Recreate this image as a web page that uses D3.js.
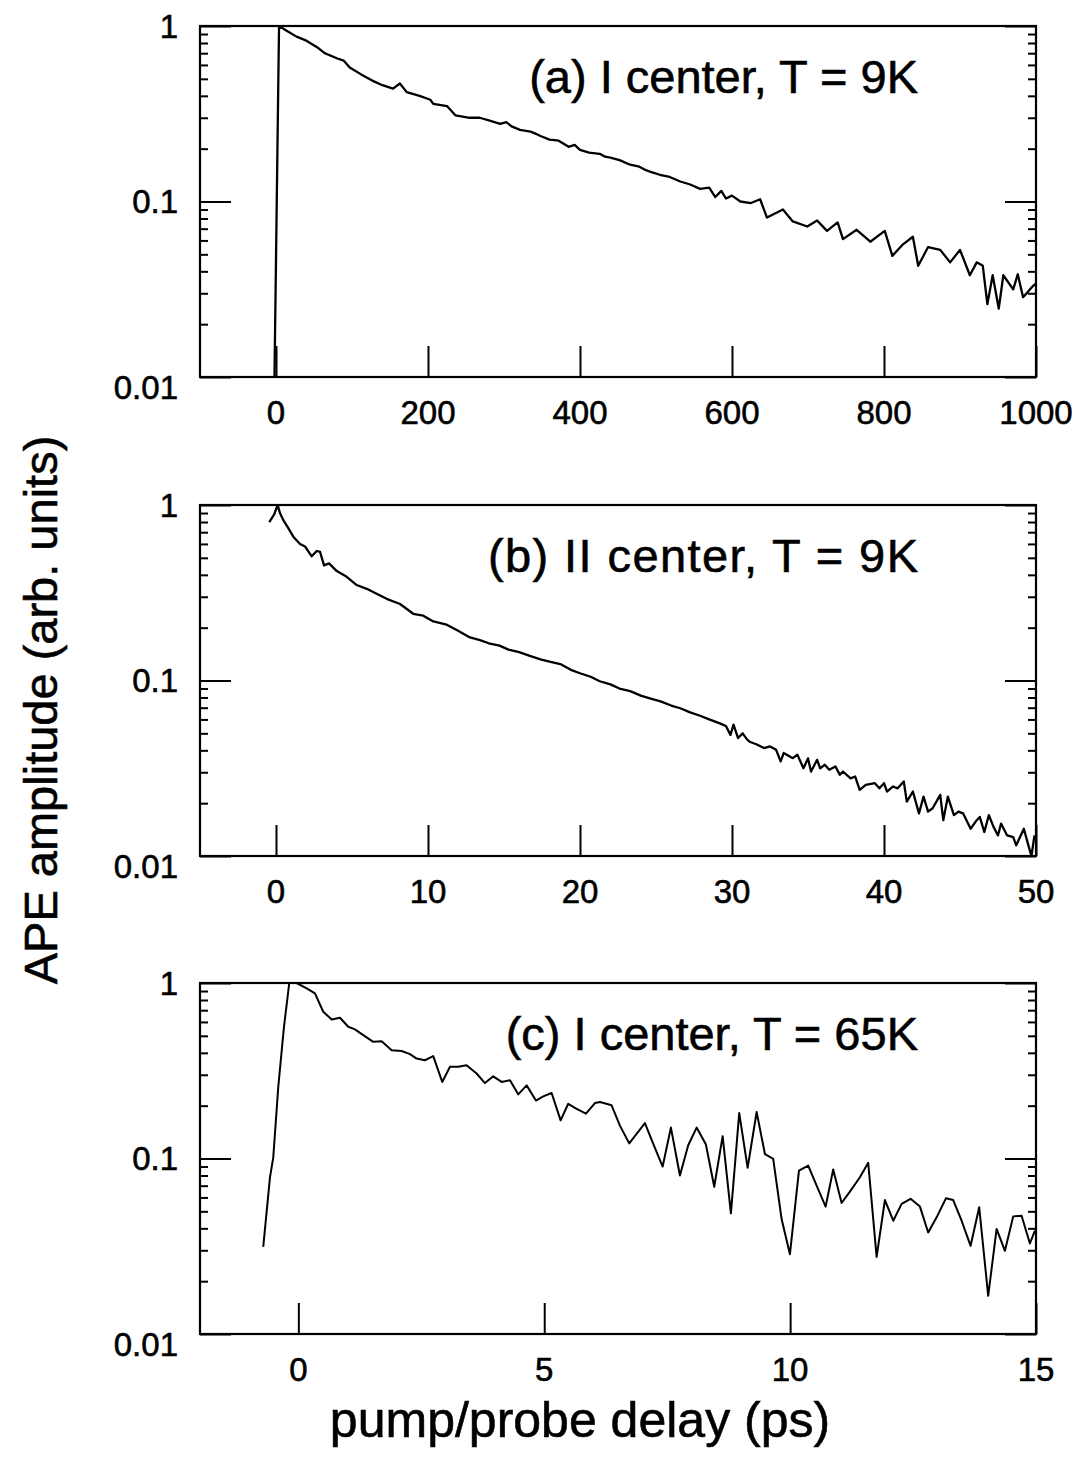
<!DOCTYPE html>
<html>
<head>
<meta charset="utf-8">
<script src="https://cdn.jsdelivr.net/npm/d3@7"></script>
<style>
  body { margin: 0; background: #fff; }
  svg { display: block; }
</style>
</head>
<body>
<svg id="chart"></svg>
<script>
// ---- data ----
const yMajorTicks = [0.01, 0.1, 1];
const yTickLabels = ["0.01", "0.1", "1"];

const panelTitles = ["(a) I center, T = 9K", "(b) II center, T = 9K", "(c) I center, T = 65K"];
const xDomains = [[-100, 1000], [-5, 50], [-2, 15]];
const xTicksA = [0, 200, 400, 600, 800, 1000];
const xTicksB = [0, 10, 20, 30, 40, 50];
const xTicksC = [0, 5, 10, 15];

// (a) I center, 9K  (delay in ps)
const delayA = [-2, 4, 14, 27, 40, 54, 64, 80, 89, 97, 112, 126, 140, 154, 163, 172, 189, 203, 207, 225, 236, 255, 268,
  280, 295, 303, 310, 321, 335, 342, 348, 360, 372, 385, 393, 400, 412, 426, 433, 440, 452, 466, 478, 485, 492, 505, 518, 532, 545, 558, 570,
  578, 586, 592, 600, 611, 625, 637, 646, 667, 680, 699, 712, 725, 739, 746, 764, 782, 801, 811, 825, 838, 845, 858,
  874, 887, 900, 913, 922, 930, 936, 943, 951, 957, 970, 976, 983, 996, 1000];
const ampA = [0.01, 1.0, 0.94, 0.87, 0.825, 0.757, 0.70, 0.655, 0.635, 0.58, 0.53, 0.49, 0.46, 0.44, 0.47, 0.42, 0.40, 0.38, 0.36, 0.35, 0.31, 0.30, 0.30,
  0.29, 0.277, 0.283, 0.268, 0.256, 0.25, 0.243, 0.236, 0.225, 0.222, 0.205, 0.21, 0.197, 0.19, 0.187, 0.18, 0.178, 0.172, 0.162, 0.158, 0.152, 0.148, 0.142, 0.138, 0.13, 0.125, 0.118, 0.12,
  0.106, 0.115, 0.104, 0.108, 0.1, 0.098, 0.103, 0.081, 0.09, 0.077, 0.072, 0.078, 0.068, 0.076, 0.061, 0.069, 0.059, 0.068, 0.049, 0.057, 0.063, 0.043, 0.055,
  0.053, 0.045, 0.053, 0.038, 0.045, 0.043, 0.026, 0.038, 0.0245, 0.038, 0.0316, 0.0385, 0.0285, 0.033, 0.034];

// (b) II center, 9K
const delayB = [-0.44, -0.13, 0.11, 0.26, 0.48, 0.8, 1.14, 1.58, 1.91, 2.35, 2.68, 2.9, 3.16, 3.49, 4.0, 4.65, 5.31, 5.97, 6.62, 7.28,
  8.16, 9.03, 9.69, 10.35, 11.23, 11.89, 12.76, 13.42, 14.0, 14.7, 15.3, 16.0, 16.7, 17.4, 18.0, 18.7, 19.4, 20.0, 20.7, 21.3, 22.0,
  22.6, 23.3, 24.0, 24.6, 25.3, 26.0, 26.6, 27.2, 27.9, 28.5, 29.2, 29.6, 29.9, 30.1, 30.4, 30.7, 31.0, 31.2, 31.6, 32.1, 32.5, 32.9,
  33.2, 33.4, 34.0, 34.3, 34.7, 35.0, 35.2, 35.6, 35.8, 36.1, 36.4, 36.8, 37.1, 37.3, 37.8, 38.1, 38.4, 38.8, 39.4, 39.7, 40.0, 40.2,
  40.6, 40.9, 41.3, 41.5, 41.9, 42.3, 42.6, 42.9, 43.2, 43.7, 43.9, 44.2, 44.6, 44.9, 45.2, 45.7, 46.1, 46.3, 46.6, 46.9, 47.2, 47.5,
  47.7, 48.1, 48.5, 48.7, 49.2, 49.5, 49.7, 49.9];
const ampB = [0.80, 0.88, 1.0, 0.90, 0.82, 0.74, 0.66, 0.60, 0.58, 0.51, 0.547, 0.54, 0.453, 0.465, 0.42, 0.39, 0.35, 0.333, 0.312, 0.292,
  0.273, 0.24, 0.234, 0.217, 0.208, 0.194, 0.176, 0.17, 0.163, 0.158, 0.15, 0.145, 0.138, 0.132, 0.128, 0.124, 0.115, 0.11, 0.105, 0.099, 0.095,
  0.09, 0.087, 0.082, 0.079, 0.076, 0.072, 0.0695, 0.066, 0.063, 0.06, 0.057, 0.055, 0.049, 0.056, 0.047, 0.05, 0.046, 0.0446, 0.0433, 0.0412, 0.0421, 0.0403,
  0.0346, 0.0386, 0.0361, 0.0378, 0.0316, 0.036, 0.0303, 0.0353, 0.0316, 0.0331, 0.031, 0.0324, 0.029, 0.0303, 0.0277, 0.0284, 0.0238, 0.0254, 0.026, 0.0243, 0.026, 0.0233,
  0.0249, 0.0243, 0.0266, 0.0204, 0.0233, 0.0175, 0.0218, 0.0179, 0.0187, 0.0223, 0.016, 0.0218, 0.0171, 0.0179, 0.0175, 0.0143, 0.016, 0.0167, 0.0137, 0.0171, 0.0147, 0.0131,
  0.0153, 0.0131, 0.0128, 0.0115, 0.0143, 0.0115, 0.01, 0.0131];

// (c) I center, 65K
const delayC = [-0.714, -0.577, -0.51, -0.409, -0.293, -0.185, -0.035, 0.169, 0.338, 0.506, 0.677, 0.846, 1.015, 1.151, 1.32, 1.523,
  1.694, 1.897, 2.1, 2.27, 2.405, 2.574, 2.743, 2.926, 3.083, 3.25, 3.42, 3.625, 3.794, 3.963, 4.134, 4.303, 4.471, 4.642, 4.831,
  4.98, 5.15, 5.333, 5.488, 5.659, 5.848, 6.031, 6.133, 6.37, 6.539, 6.728, 7.048, 7.217, 7.408, 7.576, 7.759, 7.928, 8.099, 8.288,
  8.457, 8.628, 8.796, 8.965, 9.136, 9.319, 9.488, 9.656, 9.827, 9.996, 10.18, 10.368, 10.539, 10.722, 10.876, 11.047, 11.216, 11.419,
  11.588, 11.759, 11.928, 12.097, 12.267, 12.45, 12.64, 12.808, 12.979, 13.168, 13.316, 13.487, 13.67, 13.845, 14.028, 14.199, 14.368,
  14.537, 14.707, 14.876, 14.978];
const ampC = [0.0314, 0.078, 0.1016, 0.255, 0.56, 1.0, 1.0, 0.933, 0.873, 0.686, 0.62, 0.634, 0.563, 0.544, 0.505, 0.462,
  0.466, 0.414, 0.41, 0.393, 0.371, 0.363, 0.383, 0.273, 0.333, 0.333, 0.34, 0.305, 0.269, 0.294, 0.273, 0.279, 0.232, 0.261, 0.214,
  0.226, 0.236, 0.165, 0.205, 0.192, 0.18, 0.207, 0.21, 0.201, 0.154, 0.122, 0.159, 0.121, 0.09, 0.15, 0.08, 0.119, 0.15, 0.12,
  0.069, 0.134, 0.0487, 0.1815, 0.0885, 0.184, 0.106, 0.0995, 0.0452, 0.0285, 0.0854, 0.0912, 0.0701, 0.0532, 0.0865, 0.0558, 0.0648, 0.0782,
  0.0945, 0.0275, 0.058, 0.0442, 0.0551, 0.0589, 0.0532, 0.0379, 0.0462, 0.0593, 0.058, 0.0442, 0.0318, 0.0527, 0.0165, 0.0397, 0.0298,
  0.0468, 0.0472, 0.0328, 0.0388];

// ---- layout ----
const width = 1076, height = 1473;
const font = "'Liberation Sans', Arial, Helvetica, sans-serif";
const plotLeft = 200, plotRight = 1036;
const panelTops = [26, 505, 983];
const plotHeight = 351;

const panels = [
  { title: panelTitles[0], domain: xDomains[0], ticks: xTicksA, delay: delayA, amp: ampA, lw: 2.3, titleLen: null },
  { title: panelTitles[1], domain: xDomains[1], ticks: xTicksB, delay: delayB, amp: ampB, lw: 2.3, titleLen: 430 },
  { title: panelTitles[2], domain: xDomains[2], ticks: xTicksC, delay: delayC, amp: ampC, lw: 2, titleLen: null }
];

const svg = d3.select("#chart")
  .attr("width", width)
  .attr("height", height)
  .style("font-family", font);

svg.append("rect").attr("width", width).attr("height", height).attr("fill", "#fff");

// scanned-print look: slightly heavier glyphs
const inkText = (sel) => sel.attr("fill", "#000").attr("stroke", "#000").attr("stroke-width", 0.6);

panels.forEach((p, i) => {
  const top = panelTops[i];
  const bottom = top + plotHeight;

  const x = d3.scaleLinear().domain(p.domain).range([plotLeft, plotRight]);
  const y = d3.scaleLog().domain([0.01, 1]).range([bottom, top]);

  const g = svg.append("g").attr("class", `panel-${i}`);

  g.append("clipPath").attr("id", `plot-clip-${i}`)
    .append("rect")
    .attr("x", plotLeft).attr("y", top - 1)
    .attr("width", plotRight - plotLeft).attr("height", plotHeight + 2);

  const minorTicks = y.ticks().filter((v) => !yMajorTicks.some((m) => Math.abs(m - v) < 1e-9));

  const axes = [
    [d3.axisLeft(y).tickValues(minorTicks).tickSize(-8), `translate(${plotLeft},0)`],
    [d3.axisLeft(y).tickValues(yMajorTicks).tickSize(-31), `translate(${plotLeft},0)`],
    [d3.axisRight(y).tickValues(minorTicks).tickSize(-8), `translate(${plotRight},0)`],
    [d3.axisRight(y).tickValues(yMajorTicks).tickSize(-31), `translate(${plotRight},0)`],
    [d3.axisBottom(x).tickValues(p.ticks).tickSize(-31), `translate(0,${bottom})`]
  ];

  axes.forEach(([ax, tr]) => {
    const a = g.append("g").attr("transform", tr).call(ax.tickFormat(""));
    a.select(".domain").remove();
    a.selectAll("line").attr("stroke", "#000").attr("stroke-width", 2);
  });

  // frame
  g.append("rect")
    .attr("x", plotLeft).attr("y", top)
    .attr("width", plotRight - plotLeft).attr("height", plotHeight)
    .attr("fill", "none").attr("stroke", "#000").attr("stroke-width", 2.2);

  // y tick labels
  g.append("g").selectAll("text")
    .data(yMajorTicks)
    .join("text")
    .attr("x", plotLeft - 22)
    .attr("y", (d) => y(d) + (d === 0.01 ? 10 : 0))
    .attr("dy", "0.36em")
    .attr("text-anchor", "end")
    .attr("font-size", 33)
    .text((d, k) => yTickLabels[k])
    .call(inkText);

  // x tick labels
  g.append("g").selectAll("text")
    .data(p.ticks)
    .join("text")
    .attr("x", (d) => x(d))
    .attr("y", bottom + 47)
    .attr("text-anchor", "middle")
    .attr("font-size", 33)
    .text((d) => d)
    .call(inkText);

  // data trace
  const line = d3.line()
    .x((d) => x(d[0]))
    .y((d) => y(d[1]));

  g.append("path")
    .datum(d3.zip(p.delay, p.amp))
    .attr("clip-path", `url(#plot-clip-${i})`)
    .attr("fill", "none")
    .attr("stroke", "#000")
    .attr("stroke-width", p.lw)
    .attr("stroke-linejoin", "round")
    .attr("d", line);

  // panel title
  const title = g.append("text")
    .attr("x", 918)
    .attr("y", top + 67)
    .attr("text-anchor", "end")
    .attr("font-size", 47)
    .text(p.title)
    .call(inkText);
  if (p.titleLen) {
    title.attr("textLength", p.titleLen).attr("lengthAdjust", "spacing");
  }
});

// axis titles
svg.append("text")
  .attr("transform", `translate(57,710) rotate(-90)`)
  .attr("text-anchor", "middle")
  .attr("font-size", 47)
  .text("APE amplitude (arb. units)")
  .call(inkText);

svg.append("text")
  .attr("x", 580)
  .attr("y", 1437)
  .attr("text-anchor", "middle")
  .attr("font-size", 50)
  .text("pump/probe delay (ps)")
  .call(inkText);
</script>
</body>
</html>
